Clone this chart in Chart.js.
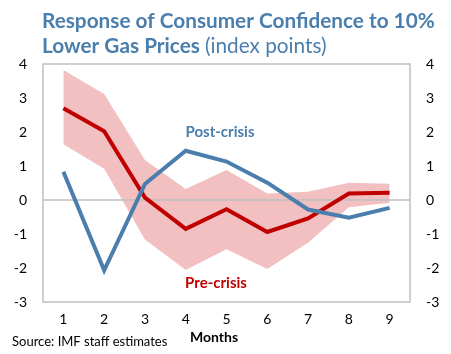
<!DOCTYPE html>
<html>
<head>
<meta charset="utf-8">
<script src="https://cdn.jsdelivr.net/npm/chart.js@4/dist/chart.umd.min.js"></script>
<style>
  html, body { margin: 0; padding: 0; background: #fff; }
  #wrap { width: 451px; height: 354px; position: relative; }
</style>
</head>
<body>
<div id="wrap"><canvas id="chart"></canvas></div>
<script>
const months = ["1", "2", "3", "4", "5", "6", "7", "8", "9"];
const preCrisis = [2.7, 2.02, 0.07, -0.85, -0.27, -0.94, -0.54, 0.19, 0.21];
const postCrisis = [0.83, -2.07, 0.47, 1.45, 1.13, 0.51, -0.28, -0.52, -0.23];
const bandUpper = [3.82, 3.12, 1.18, 0.32, 0.88, 0.19, 0.24, 0.51, 0.48];
const bandLower = [1.64, 0.92, -1.16, -2.06, -1.45, -2.03, -1.26, -0.21, -0.08];
const yTicks = [-3, -2, -1, 0, 1, 2, 3, 4];

const BLUE = "#4a7ead";
const RED = "#c00000";
const FONT = "Lato";

const overlay = {
  id: "overlay",
  // runs after the band fill, before the lines
  beforeDatasetsDraw(chart) {
    const { ctx, chartArea: a } = chart;
    const y0 = chart.scales.y.getPixelForValue(0);
    ctx.save();
    ctx.strokeStyle = "#bfbfbf";
    ctx.lineWidth = 1.5;
    ctx.strokeRect(a.left, a.top, a.right - a.left, a.bottom - a.top);
    ctx.beginPath();
    ctx.moveTo(a.left, y0);
    ctx.lineTo(a.right, y0);
    ctx.stroke();
    ctx.restore();
  },
  afterDraw(chart) {
    const { ctx } = chart;
    ctx.save();
    // title
    ctx.fillStyle = BLUE;
    ctx.textBaseline = "alphabetic";
    ctx.textAlign = "left";
    let size = 20;
    ctx.font = "bold " + size + "px " + FONT;
    let w = ctx.measureText("Response of Consumer Confidence to 10%").width;
    size = size * 393 / w;
    ctx.font = "bold " + size + "px " + FONT;
    ctx.fillText("Response of Consumer Confidence to 10%", 42, 28);
    ctx.fillText("Lower Gas Prices", 42, 53);
    let w2 = ctx.measureText("Lower Gas Prices ").width;
    ctx.font = size + "px " + FONT;
    ctx.fillText("(index points)", 42 + w2, 53);

    // labels
    ctx.textAlign = "center";
    ctx.textBaseline = "middle";
    ctx.font = "bold 15px " + FONT;
    ctx.fillStyle = BLUE;
    ctx.fillText("Post-crisis", 220, 132);
    ctx.fillStyle = RED;
    ctx.fillText("Pre-crisis", 216, 283);
    ctx.fillStyle = "#000";
    ctx.font = "bold 14px " + FONT;
    ctx.fillText("Months", 214, 337);
    ctx.textAlign = "left";
    ctx.font = "13px " + FONT;
    ctx.fillText("Source: IMF staff estimates", 12, 342);
    ctx.restore();
  }
};

const tickFont = { family: FONT, size: 14 };

new Chart(document.getElementById("chart"), {
  type: "line",
  data: {
    labels: months,
    datasets: [
      {
        label: "upper",
        data: bandUpper,
        borderWidth: 0,
        pointRadius: 0,
        tension: 0,
        backgroundColor: "#f2c0c0",
        fill: "+1",
        order: 3,
      },
      {
        label: "lower",
        data: bandLower,
        borderWidth: 0,
        pointRadius: 0,
        tension: 0,
        fill: false,
        order: 2,
      },
      {
        label: "Pre-crisis",
        data: preCrisis,
        borderColor: RED,
        borderWidth: 4,
        pointRadius: 0,
        tension: 0,
        fill: false,
        order: 1,
      },
      {
        label: "Post-crisis",
        data: postCrisis,
        borderColor: BLUE,
        borderWidth: 4,
        pointRadius: 0,
        tension: 0,
        fill: false,
        order: 0,
      },
    ],
  },
  options: {
    responsive: true,
    maintainAspectRatio: false,
    animation: false,
    layout: { padding: { top: 64, left: 0, right: 0, bottom: 0 } },
    plugins: {
      legend: { display: false },
      tooltip: { enabled: false },
      filler: { drawTime: "beforeDatasetsDraw" },
    },
    scales: {
      x: {
        offset: true,
        grid: { display: false, drawTicks: false },
        border: { display: false },
        ticks: { color: "#000", font: tickFont, padding: 9 },
        afterFit(scale) { scale.height = 52; },
      },
      y: {
        position: "left",
        min: -3,
        max: 4,
        afterBuildTicks(scale) { scale.ticks = yTicks.map(v => ({ value: v })); },
        grid: { display: false, drawTicks: false },
        border: { display: false },
        ticks: { color: "#000", font: tickFont, padding: 16 },
        afterFit(scale) { scale.width = 43; },
      },
      y2: {
        position: "right",
        min: -3,
        max: 4,
        afterBuildTicks(scale) { scale.ticks = yTicks.map(v => ({ value: v })); },
        grid: { display: false, drawTicks: false },
        border: { display: false },
        ticks: { color: "#000", font: tickFont, padding: 16 },
        afterFit(scale) { scale.width = 41; },
      },
    },
  },
  plugins: [overlay],
});
</script>
</body>
</html>
